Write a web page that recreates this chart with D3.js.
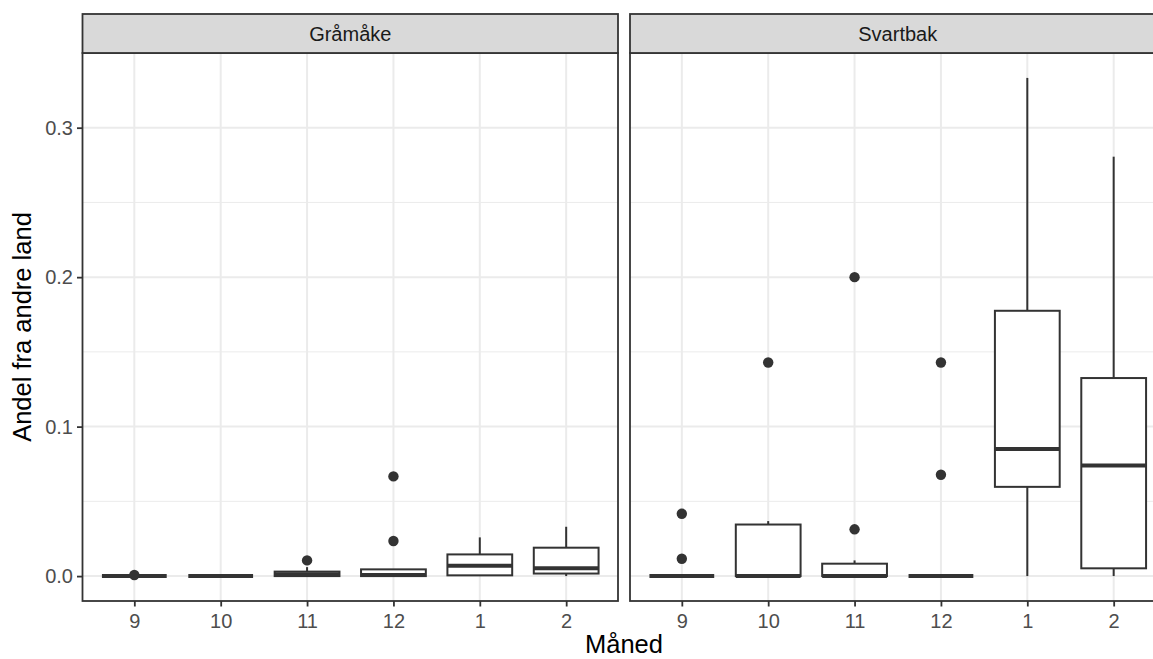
<!DOCTYPE html>
<html>
<head>
<meta charset="utf-8">
<script src="https://cdn.jsdelivr.net/npm/d3@7"></script>
<style>
  body { margin: 0; background: #fff; }
  svg { display: block; font-family: "Liberation Sans", Arial, sans-serif; }
</style>
</head>
<body>
<div id="chart"></div>
<script>
// Boxplots of share from other countries per month, one facet per gull species

const months = ["9", "10", "11", "12", "1", "2"];
const species = ["Gråmåke", "Svartbak"];
const yTicks = [0, 0.1, 0.2, 0.3];
const yMinor = [0.05, 0.15, 0.25];

// Gråmåke box stats (per month)
const gLow  = [0, 0, 0, 0, 0, 0];
const gQ1   = [0, 0, 0, 0, 0.0005, 0.0017];
const gMed  = [0, 0, 0.0012, 0.0008, 0.0069, 0.0053];
const gQ3   = [0, 0, 0.003, 0.0045, 0.0145, 0.019];
const gHigh = [0, 0.0012, 0.006, 0.0045, 0.0259, 0.033];
const gOut  = [[0.0007], [], [0.0105], [0.0235, 0.0667], [], []];

// Svartbak box stats (per month)
const sLow  = [0, 0, 0, 0, 0, 0];
const sQ1   = [0, 0, 0, 0, 0.0597, 0.0052];
const sMed  = [0, 0, 0, 0, 0.085, 0.074];
const sQ3   = [0, 0.0345, 0.0083, 0, 0.1775, 0.1325];
const sHigh = [0, 0.0368, 0.0105, 0, 0.3333, 0.2806];
const sOut  = [[0.0116, 0.0417], [0.1429], [0.0313, 0.2], [0.0678, 0.1429], [], []];

function buildRows(low, q1, med, q3, high, out) {
    return months.map((m, i) => ({month: m, low: low[i], q1: q1[i], med: med[i], q3: q3[i], high: high[i], out: out[i]}));
}

const panels = [
    {name: species[0], rows: buildRows(gLow, gQ1, gMed, gQ3, gHigh, gOut)},
    {name: species[1], rows: buildRows(sLow, sQ1, sMed, sQ3, sHigh, sOut)}
];

const width = 1153, height = 659;
const panelW = 535.5, gap = 12;
const pLeft = 82.5, pTop = 53, pBottom = 601, stripH = 39;
const ink = "#333333";
const tickFont = 20, titleFont = 25.5;

const svg = d3.select("#chart").append("svg")
    .attr("width", width)
    .attr("height", height);

const y = d3.scaleLinear()
    .domain([-0.3333 * 0.05, 0.3333 * 1.05])
    .range([pBottom, pTop]);

panels.forEach((p, pi) => {
    const x0 = pLeft + pi * (panelW + gap);
    const x = d3.scalePoint()
        .domain(months)
        .range([x0, x0 + panelW])
        .padding(0.6);
    const boxW = x.step() * 0.75;

    const g = svg.append("g");

    // grid
    g.selectAll(".minor").data(yMinor).join("line")
        .attr("x1", x0).attr("x2", x0 + panelW)
        .attr("y1", d => y(d)).attr("y2", d => y(d))
        .attr("stroke", "#EBEBEB").attr("stroke-width", 1);
    g.selectAll(".major").data(yTicks).join("line")
        .attr("x1", x0).attr("x2", x0 + panelW)
        .attr("y1", d => y(d)).attr("y2", d => y(d))
        .attr("stroke", "#EBEBEB").attr("stroke-width", 2);
    g.selectAll(".vgrid").data(months).join("line")
        .attr("x1", d => x(d)).attr("x2", d => x(d))
        .attr("y1", pTop).attr("y2", pBottom)
        .attr("stroke", "#EBEBEB").attr("stroke-width", 2);

    // whiskers
    const box = g.selectAll(".box").data(p.rows).join("g");
    box.append("line")
        .attr("x1", d => x(d.month)).attr("x2", d => x(d.month))
        .attr("y1", d => y(d.q3)).attr("y2", d => y(d.high))
        .attr("stroke", ink).attr("stroke-width", 2);
    box.append("line")
        .attr("x1", d => x(d.month)).attr("x2", d => x(d.month))
        .attr("y1", d => y(d.q1)).attr("y2", d => y(d.low))
        .attr("stroke", ink).attr("stroke-width", 2);
    box.append("rect")
        .attr("x", d => x(d.month) - boxW / 2)
        .attr("width", boxW)
        .attr("y", d => y(d.q3))
        .attr("height", d => y(d.q1) - y(d.q3))
        .attr("fill", "#fff")
        .attr("stroke", ink).attr("stroke-width", 2);
    box.append("line")
        .attr("x1", d => x(d.month) - boxW / 2).attr("x2", d => x(d.month) + boxW / 2)
        .attr("y1", d => y(d.med)).attr("y2", d => y(d.med))
        .attr("stroke", ink).attr("stroke-width", 4);

    // outliers
    box.selectAll("circle").data(d => d.out.map(v => ({month: d.month, v}))).join("circle")
        .attr("cx", d => x(d.month))
        .attr("cy", d => y(d.v))
        .attr("r", 5.2)
        .attr("fill", ink);

    // panel border
    g.append("rect")
        .attr("x", x0).attr("y", pTop)
        .attr("width", panelW).attr("height", pBottom - pTop)
        .attr("fill", "none").attr("stroke", ink).attr("stroke-width", 1.8);

    // strip
    g.append("rect")
        .attr("x", x0).attr("y", pTop - stripH)
        .attr("width", panelW).attr("height", stripH)
        .attr("fill", "#D9D9D9").attr("stroke", ink).attr("stroke-width", 1.8);
    g.append("text")
        .attr("x", x0 + panelW / 2).attr("y", pTop - stripH / 2)
        .attr("dy", "0.35em")
        .attr("text-anchor", "middle")
        .attr("font-size", tickFont)
        .attr("fill", "#1A1A1A")
        .text(p.name);

    // x axis
    const xAxis = g.append("g")
        .attr("transform", `translate(0,${pBottom})`)
        .call(d3.axisBottom(x).tickSize(5.5).tickPadding(7));
    xAxis.select(".domain").remove();
    xAxis.selectAll("line").attr("stroke", ink).attr("stroke-width", 1.8);
    xAxis.selectAll("text").attr("font-size", tickFont).attr("fill", "#4D4D4D")
        .attr("font-family", "Liberation Sans, Arial, sans-serif");

    // y axis only on first panel
    if (pi === 0) {
        const yAxis = g.append("g")
            .attr("transform", `translate(${x0},0)`)
            .call(d3.axisLeft(y).tickValues(yTicks).tickFormat(d3.format(".1f")).tickSize(5.5).tickPadding(4));
        yAxis.select(".domain").remove();
        yAxis.selectAll("line").attr("stroke", ink).attr("stroke-width", 1.8);
        yAxis.selectAll("text").attr("font-size", tickFont).attr("fill", "#4D4D4D")
            .attr("font-family", "Liberation Sans, Arial, sans-serif");
    }
});

// axis titles
svg.append("text")
    .attr("x", pLeft + panelW + gap / 2)
    .attr("y", 653)
    .attr("text-anchor", "middle")
    .attr("font-size", titleFont)
    .attr("fill", "#000")
    .text("Måned");

svg.append("text")
    .attr("transform", `translate(31,${(pTop + pBottom) / 2}) rotate(-90)`)
    .attr("text-anchor", "middle")
    .attr("font-size", titleFont)
    .attr("fill", "#000")
    .text("Andel fra andre land");
</script>
</body>
</html>
